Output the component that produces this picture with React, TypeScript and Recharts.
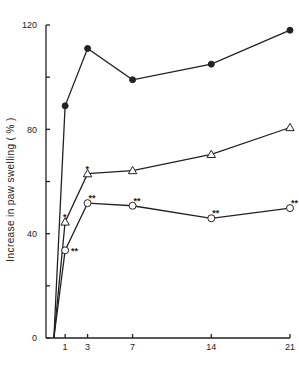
import React from 'react';
import { LineChart, Line, XAxis, YAxis, LabelList } from 'recharts';

// days after injection
const days = [0, 1, 3, 7, 14, 21];
// % increase in paw swelling
const controlSwelling = [0, 89, 111, 99, 105, 118];
const triangleSwelling = [0, 44.5, 63, 64.2, 70.4, 80.7];
const circleSwelling = [0, 33.6, 51.7, 50.7, 45.9, 49.8];
// significance marks
const triangleMarks = ['', '*', '*', '', '', ''];
const circleMarks = ['', '**', '**', '**', '**', '**'];

const xTicks = [1, 3, 7, 14, 21];
const yTicks = [0, 20, 40, 60, 80, 100, 120];

const data = days.map((day, i) => ({
  day,
  control: controlSwelling[i],
  triangle: triangleSwelling[i],
  circle: circleSwelling[i],
  triMark: triangleMarks[i],
  circMark: circleMarks[i],
}));

const INK = '#222';
const FONT = '"Liberation Sans", Arial, sans-serif';

const FilledDot = (props: any) => {
  const { cx, cy, index } = props;
  if (index === 0) return <g key={`f${index}`} />;
  return <circle key={`f${index}`} cx={cx} cy={cy} r={3} fill={INK} stroke={INK} />;
};

const TriangleDot = (props: any) => {
  const { cx, cy, index } = props;
  if (index === 0) return <g key={`t${index}`} />;
  const s = 4.2;
  return (
    <polygon
      key={`t${index}`}
      points={`${cx},${cy - s} ${cx - s},${cy + s * 0.75} ${cx + s},${cy + s * 0.75}`}
      fill="#fff"
      stroke={INK}
      strokeWidth={1}
    />
  );
};

const OpenDot = (props: any) => {
  const { cx, cy, index } = props;
  if (index === 0) return <g key={`o${index}`} />;
  return <circle key={`o${index}`} cx={cx} cy={cy} r={3.5} fill="#fff" stroke={INK} strokeWidth={1} />;
};

const markLabel = (side: 'above' | 'right') => (props: any) => {
  const { x, y, value } = props;
  if (!value) return null;
  const dx = side === 'right' ? 6 : value.length > 1 ? 1 : -2;
  const dy = side === 'right' ? 4 : -2;
  return (
    <text x={x + dx} y={y + dy} fontSize={9} fontFamily={FONT} fill={INK} fontWeight="bold">
      {value}
    </text>
  );
};

const circleMarkLabel = (props: any) => {
  const { index } = props;
  return markLabel(index === 1 ? 'right' : 'above')(props);
};

export default function App() {
  return (
    <div style={{ position: 'absolute', left: 0, top: 0, background: '#fff' }}>
      <LineChart width={299} height={369} data={data} margin={{ top: 25, right: 9, bottom: 1, left: 10 }}>
        <XAxis
          dataKey="day"
          type="number"
          domain={[-0.7, 21]}
          ticks={xTicks}
          allowDecimals
          stroke={INK}
          strokeWidth={1.3}
          tickSize={-4}
          tickMargin={10}
          height={30}
          tick={{ fill: INK, fontSize: 9, fontFamily: FONT }}
        />
        <YAxis
          type="number"
          domain={[0, 120]}
          ticks={yTicks}
          width={36}
          stroke={INK}
          strokeWidth={1.3}
          tickSize={-4}
          tickMargin={13}
          tickFormatter={(v: number) => (v % 40 === 0 ? String(v) : '')}
          tick={{ fill: INK, fontSize: 9, fontFamily: FONT }}
          label={{
            content: (p: any) => {
              const vb = p.viewBox || {};
              const cx = (vb.x ?? 10);
              const cy = (vb.y ?? 25) + (vb.height ?? 313) / 2 + 8;
              return (
                <text
                  x={cx}
                  y={cy}
                  transform={`rotate(-90 ${cx} ${cy})`}
                  textAnchor="middle"
                  dominantBaseline="central"
                  fontSize={10}
                  fontFamily={FONT}
                  fill={INK}
                  letterSpacing={0.4}
                >
                  Increase in paw swelling ( % )
                </text>
              );
            },
          }}
        />
        <Line
          dataKey="control"
          stroke={INK}
          strokeWidth={1.3}
          dot={FilledDot}
          activeDot={false}
          isAnimationActive={false}
        />
        <Line
          dataKey="triangle"
          stroke={INK}
          strokeWidth={1.3}
          dot={TriangleDot}
          activeDot={false}
          isAnimationActive={false}
        >
          <LabelList dataKey="triMark" content={markLabel('above')} />
        </Line>
        <Line
          dataKey="circle"
          stroke={INK}
          strokeWidth={1.3}
          dot={OpenDot}
          activeDot={false}
          isAnimationActive={false}
        >
          <LabelList dataKey="circMark" content={circleMarkLabel} />
        </Line>
      </LineChart>
    </div>
  );
}
